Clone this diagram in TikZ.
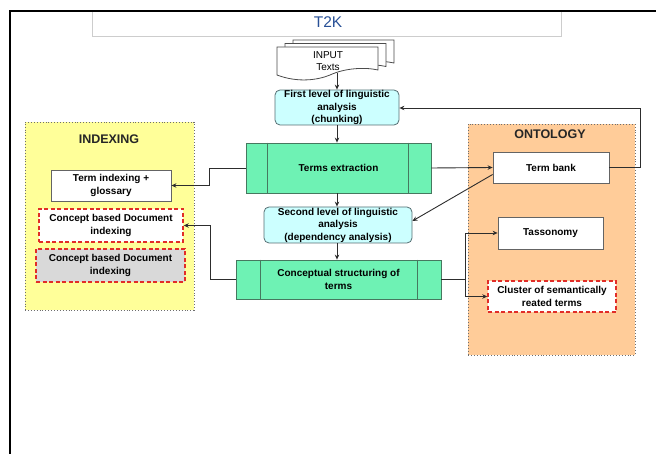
\documentclass[tikz,border=0pt]{standalone}
\usepackage{fontspec}
\setmainfont{Liberation Sans}
\usetikzlibrary{arrows.meta}

\definecolor{framecol}{RGB}{0,0,0}
\definecolor{titleline}{RGB}{205,205,205}
\definecolor{titleblue}{RGB}{40,80,150}
\definecolor{cyanfill}{RGB}{204,255,255}
\definecolor{cyanborder}{RGB}{85,110,115}
\definecolor{greenfill}{RGB}{110,242,180}
\definecolor{greenborder}{RGB}{70,120,95}
\definecolor{yellowfill}{RGB}{255,255,153}
\definecolor{orangefill}{RGB}{255,204,153}
\definecolor{groupborder}{RGB}{110,110,110}
\definecolor{boxborder}{RGB}{100,100,100}
\definecolor{reddash}{RGB}{225,45,40}
\definecolor{grayfill}{RGB}{217,217,217}
\definecolor{linecol}{RGB}{45,45,45}

\begin{document}
\begin{tikzpicture}[x=1pt,y=-1pt,
  txt/.style={font=\bfseries\fontsize{10}{12.5}\selectfont, align=center, inner sep=0pt},
  analysis/.style={txt, draw=cyanborder, fill=cyanfill, line width=0.8pt, rounded corners=5pt},
  process/.style={txt, draw=greenborder, fill=greenfill, line width=0.8pt},
  procline/.style={draw=greenborder, line width=0.8pt},
  group/.style={draw=groupborder, line width=0.9pt, dotted, inner sep=0pt},
  grouptitle/.style={font=\bfseries\fontsize{12.5}{14}\selectfont, text=black!85},
  plainbox/.style={txt, draw=boxborder, fill=white, line width=0.8pt},
  dashbox/.style={txt, draw=reddash, fill=white, line width=1.4pt, dash pattern=on 4pt off 2.5pt},
  page/.style={draw=black!70, fill=white, line width=0.8pt},
  conn/.style={draw=linecol, line width=0.9pt, -{Stealth[length=5pt,width=4.5pt]}}
]
\useasboundingbox (0,0) rectangle (656,454);

% title banner
\draw[titleline, line width=1pt] (92,11) rectangle (561,37);
\node[text=titleblue, font=\fontsize{15.5}{17}\selectfont] (title) at (328,22) {T2K};

% frame edges
\draw[framecol, line width=2.5pt] (10,454) -- (10,11) -- (656,11);

% stacked input pages
\foreach \dx/\dy in {16/-7, 8/-3.5, 0/0} {
  \draw[page, shift={(\dx,\dy)}] (277,47) -- (378,47) -- (378,70)
    .. controls (365,67) and (345,68) .. (330,75)
    .. controls (318,80) and (298,83) .. (277,75) -- cycle;
}
\node[font=\fontsize{10}{12}\selectfont, align=center, inner sep=0pt] (input) at (328,61) {INPUT\\Texts};
\coordinate (docb) at (337,73);

% groups
\node[group, fill=yellowfill, minimum width=169pt, minimum height=188pt] (indexing) at (109.5,216) {};
\node[grouptitle] (indexingtitle) at (109,139) {INDEXING};
\node[group, fill=orangefill, minimum width=167pt, minimum height=231pt] (ontology) at (551.5,239.5) {};
\node[grouptitle] (ontologytitle) at (550,134) {ONTOLOGY};

% main chain
\node[analysis, minimum width=124pt, minimum height=35pt] (fl) at (337,107.5)
  {First level of linguistic\\analysis\\(chunking)};
\node[process, minimum width=185pt, minimum height=50pt] (te) at (338.5,168)
  {Terms extraction};
\node[analysis, minimum width=148pt, minimum height=36pt] (sl) at (338,225)
  {Second level of linguistic\\analysis\\(dependency analysis)};
\node[process, minimum width=205pt, minimum height=39pt] (cs) at (338.5,279.5)
  {Conceptual structuring of\\terms};

\draw[procline] ([xshift=22pt]te.north west) -- ([xshift=22pt]te.south west);
\draw[procline] ([xshift=-23pt]te.north east) -- ([xshift=-23pt]te.south east);
\draw[procline] ([xshift=25pt]cs.north west) -- ([xshift=25pt]cs.south west);
\draw[procline] ([xshift=-24pt]cs.north east) -- ([xshift=-24pt]cs.south east);

% indexing outputs
\node[plainbox, minimum width=120pt, minimum height=31pt] (ti) at (111,185.5)
  {Term indexing +\\glossary};
\node[dashbox, minimum width=144pt, minimum height=33pt] (cb1) at (111,225.5)
  {Concept based Document\\indexing};
\node[dashbox, fill=grayfill, minimum width=149pt, minimum height=33pt] (cb2) at (110.5,265.5)
  {Concept based Document\\indexing};

% ontology outputs
\node[plainbox, minimum width=116pt, minimum height=31pt] (tb) at (551,167.5) {Term bank};
\node[plainbox, minimum width=105pt, minimum height=32pt] (tas) at (550.5,233) {Tassonomy};
\node[dashbox, minimum width=128pt, minimum height=31pt] (cl) at (552,296.5)
  {Cluster of semantically\\reated terms};

% connectors
\draw[conn] (docb) -- (fl.north -| docb);
\draw[conn] (fl.south) -- (te.north -| fl.south);
\draw[conn] (te.south -| fl.south) -- (sl.north -| fl.south);
\draw[conn] (sl.south -| fl.south) -- (cs.north -| fl.south);

\draw[conn] (te.west) -- (209,168) -- (209,185.5) -- (ti.east);
\draw[conn] (cs.west) -- (210,279.5) -- (210,225.5) -- (cb1.east);

\draw[conn] (te.east) -- (tb.west);
\draw[conn] ([yshift=-7pt]tb.west) -- ([yshift=4pt]sl.east);
\draw[conn] (tb.east) -- (640,167.5) -- (640,108) -- (fl.east |- 0,108);

\draw[conn] (cs.east) -- (465,279.5) -- (465,233) -- (tas.west);
\draw[conn] (465,279.5) -- (465,296.5) -- (cl.west);
\end{tikzpicture}
\end{document}
